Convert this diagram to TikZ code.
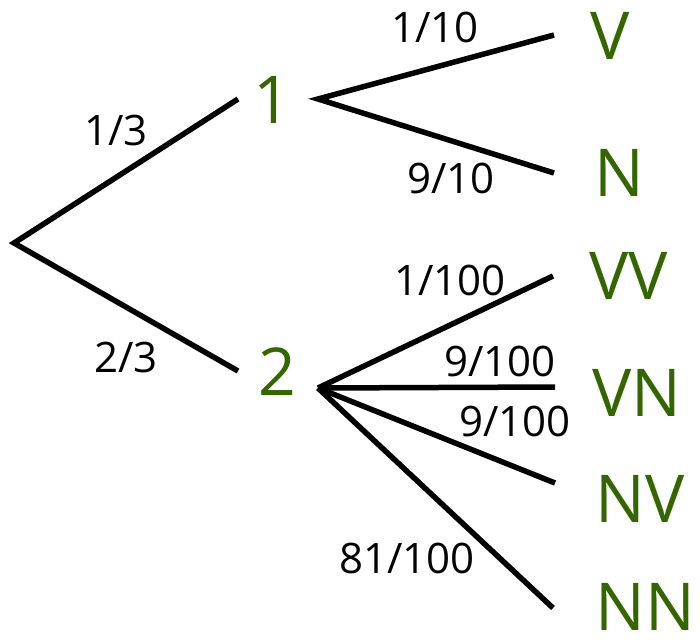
\documentclass[tikz,border=0pt]{standalone}
\usepackage{fontspec}
\setmainfont{Open Sans}
\definecolor{leafgreen}{RGB}{52,102,0}
\begin{document}
\begin{tikzpicture}[x=1pt,y=-1pt,
  branch/.style={line width=5.5pt},
  prob/.style={inner sep=0pt,font=\fontsize{42}{42}\selectfont},
  outcome/.style={inner sep=0pt,text=leafgreen,font=\fontsize{66}{66}\selectfont}]
\useasboundingbox (0,0) rectangle (700,640);

% stage nodes and outcomes
\node[outcome] (one) at (272,100) {1};
\node[outcome] (two) at (277,372) {2};
\node[outcome] (V)  at (610,36)  {V};
\node[outcome] (N)  at (619,173) {N};
\node[outcome] (VV) at (629,276) {VV};
\node[outcome] (VN) at (637,393) {VN};
\node[outcome] (NV) at (640,499) {NV};
\node[outcome] (NN) at (645,607) {NN};

% branch end points
\coordinate (root) at (14,243);
\coordinate (oneIn) at (238,99);
\coordinate (twoIn) at (238,371);
\coordinate (oneOut) at (318,99);
\coordinate (twoOut) at (318,388);
\coordinate (eV) at (554,35);
\coordinate (eN) at (554,173);
\coordinate (eVV) at (553,276);
\coordinate (eVN) at (555,387);
\coordinate (eNV) at (555,483);
\coordinate (eNN) at (553,608);

% branches
\draw[branch] (oneIn) -- (root) -- (twoIn);
\draw[branch] (eV) -- (oneOut) -- (eN);
\draw[branch] (twoOut) -- (eVV);
\draw[branch] (twoOut) -- (eVN);
\draw[branch] (twoOut) -- (eNV);
\draw[branch] (twoOut) -- (eNN);

% probabilities
\node[prob] (p13) at (116,130) {1/3};
\node[prob] (p23) at (126,357) {2/3};
\node[prob] (p110) at (435,27) {1/10};
\node[prob] (p910) at (451,178) {9/10};
\node[prob] (p1100) at (450,280) {1/100};
\node[prob] (p9100a) at (500,361) {9/100};
\node[prob] (p9100b) at (515,421) {9/100};
\node[prob] (p81100) at (407,558) {81/100};
\end{tikzpicture}
\end{document}
